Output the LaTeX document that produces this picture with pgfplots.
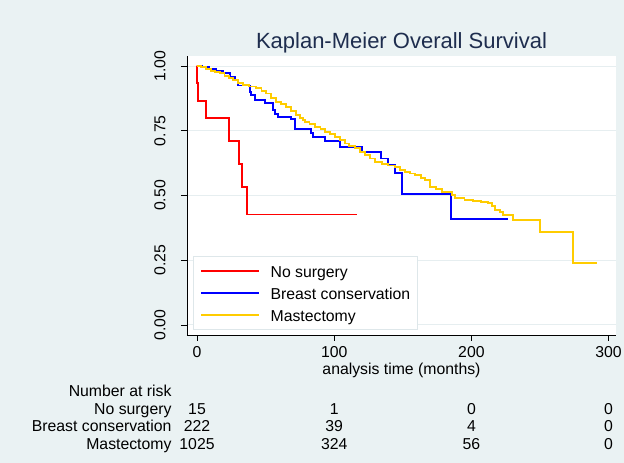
\documentclass[border=0pt]{standalone}
\usepackage{fontspec}
\setmainfont{Liberation Sans}
\usepackage{pgfplots}
\pgfplotsset{compat=1.18}
\definecolor{bgc}{RGB}{234,242,243}
\definecolor{gridc}{RGB}{230,238,240}
\definecolor{titlec}{RGB}{30,45,78}
\definecolor{kmred}{RGB}{255,0,0}
\definecolor{kmblue}{RGB}{0,0,255}
\definecolor{kmyellow}{RGB}{255,204,0}
\definecolor{legc}{RGB}{222,231,234}
\newcommand\fs{\fontsize{15.8}{19}\selectfont}

\pgfplotstableread{
t s
0 1.000
0.2 0.9333
1 0.8667
6.6 0.8000
23.5 0.7111
30.6 0.6222
32.6 0.5333
36.7 0.4267
116.4 0.4267
}\nosurg

\pgfplotstableread{
t s
0 1.000
4 0.995
9 0.990
14 0.982
19 0.972
24 0.958
28 0.945
30 0.925
38.4 0.900
39.6 0.888
42 0.869
49.3 0.858
55.4 0.830
56.6 0.815
59 0.804
68.7 0.794
71.2 0.756
83.1 0.740
84.8 0.727
93.3 0.710
104.2 0.689
120 0.669
134.1 0.643
139 0.618
144.3 0.586
149.5 0.506
185.1 0.408
226.9 0.408
}\breastc

\pgfplotstableread{
t s
0 1.000
3 0.995
6.8 0.988
10 0.982
13 0.977
16.5 0.972
20 0.963
23 0.955
26.2 0.946
30 0.936
33.5 0.927
38 0.921
43.2 0.914
47 0.904
50.5 0.894
54 0.878
57.8 0.862
61 0.853
65.1 0.843
68.5 0.828
72.4 0.811
75 0.800
77.3 0.792
78.7 0.785
82 0.776
86 0.766
90 0.756
93.3 0.746
97 0.737
100.6 0.727
104 0.714
107.9 0.701
111 0.692
115.2 0.682
119 0.669
122.4 0.656
126 0.643
129.7 0.631
134.6 0.622
139 0.616
144.3 0.611
148 0.600
151.6 0.592
155 0.585
158.9 0.579
163 0.568
166.2 0.560
169.8 0.534
174 0.525
178.3 0.515
185.6 0.502
188 0.489
195 0.484
201.4 0.480
207 0.476
212.3 0.470
215 0.458
217.2 0.444
220.8 0.437
223.3 0.425
230.6 0.405
250 0.360
273.8 0.240
291.3 0.240
}\mastec

\begin{document}
\begin{tikzpicture}
\fill[bgc] (0,0) rectangle (624pt,463pt);
\path[use as bounding box] (0,0) rectangle (624pt,463pt);
\begin{axis}[
  at={(187pt,128pt)}, anchor=south west,
  scale only axis, width=429pt, height=279pt,
  xmin=-7.3, xmax=305.4, ymin=-0.039, ymax=1.039,
  axis x line*=bottom, axis y line*=left,
  axis line style={black, line width=0.9pt, -},
  axis background/.style={fill=white},
  clip=false,
  xtick={0,100,200,300}, xticklabels={0,100,200,300},
  ytick={0,0.25,0.5,0.75,1}, yticklabels={0.00,0.25,0.50,0.75,1.00},
  tick align=outside, major tick length=6pt,
  tick style={black, line width=0.8pt},
  tick label style={font=\fs, text=black},
  xticklabel style={anchor=base},
  xticklabel shift=17pt,
  yticklabel style={rotate=90, anchor=base},
  yticklabel shift=15.5pt,
  ymajorgrids, grid style={gridc, line width=1.1pt},
  legend cell align=left,
  legend image code/.code={\draw[#1] (0pt,0pt) -- (58pt,0pt);},
  legend style={at={(0.0133,0.2832)}, anchor=north west,
    draw=legc, fill=white, font=\fs, line width=0.8pt,
    inner xsep=7pt, inner ysep=5pt, row sep=2.1pt, column sep=10.6pt,
    nodes={inner sep=0pt, text height=16.3pt, text depth=3.3pt}},
]
\addplot[const plot, kmred, line width=1.9pt] table[x=t,y=s] {\nosurg};
\addlegendentry{No surgery}
\addplot[const plot, kmblue, line width=1.9pt] table[x=t,y=s] {\breastc};
\addlegendentry{Breast conservation}
\addplot[const plot, kmyellow, line width=1.9pt] table[x=t,y=s] {\mastec};
\addlegendentry{Mastectomy}

\node[anchor=base, font=\fontsize{22}{26}\selectfont, text=titlec] at (axis cs:149.05,1.0688) {Kaplan-Meier Overall Survival};
\node[anchor=base, font=\fs] at (axis cs:149.05,-0.1897) {analysis time (months)};

\node[anchor=base east, font=\fs] at (axis cs:-16.03,-0.2759) {Number at risk};
\node[anchor=base east, font=\fs] at (axis cs:-16.03,-0.3443) {No surgery};
\node[anchor=base east, font=\fs] at (axis cs:-16.03,-0.4127) {Breast conservation};
\node[anchor=base east, font=\fs] at (axis cs:-16.03,-0.4811) {Mastectomy};

\node[anchor=base, font=\fs] at (axis cs:0,-0.3443) {15};
\node[anchor=base, font=\fs] at (axis cs:100,-0.3443) {1};
\node[anchor=base, font=\fs] at (axis cs:200,-0.3443) {0};
\node[anchor=base, font=\fs] at (axis cs:300,-0.3443) {0};
\node[anchor=base, font=\fs] at (axis cs:0,-0.4127) {222};
\node[anchor=base, font=\fs] at (axis cs:100,-0.4127) {39};
\node[anchor=base, font=\fs] at (axis cs:200,-0.4127) {4};
\node[anchor=base, font=\fs] at (axis cs:300,-0.4127) {0};
\node[anchor=base, font=\fs] at (axis cs:0,-0.4811) {1025};
\node[anchor=base, font=\fs] at (axis cs:100,-0.4811) {324};
\node[anchor=base, font=\fs] at (axis cs:200,-0.4811) {56};
\node[anchor=base, font=\fs] at (axis cs:300,-0.4811) {0};
\end{axis}
\end{tikzpicture}
\end{document}
